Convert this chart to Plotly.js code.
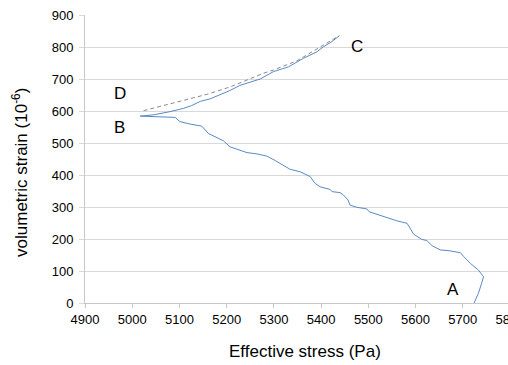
<!DOCTYPE html>
<html>
<head>
<meta charset="utf-8">
<script src="https://cdn.plot.ly/plotly-3.0.1.min.js"></script>
<style>
html, body { margin: 0; padding: 0; overflow: hidden; background: #fff; }
#chart { width: 540px; height: 365px; }
</style>
</head>
<body>
<div id="chart"></div>
<script>
// Loading path A -> B (effective stress in Pa, volumetric strain in 1e-6)
const loadStress = [5724, 5733, 5740, 5744, 5733, 5716, 5702, 5695, 5673, 5652, 5635, 5624, 5613, 5596, 5590, 5582, 5560, 5539, 5518, 5502, 5497, 5476, 5461, 5457, 5447, 5440, 5423, 5419, 5398, 5387, 5377, 5356, 5334, 5313, 5303, 5285, 5264, 5243, 5207, 5193, 5175, 5161, 5147, 5123, 5101, 5091, 5017];
const loadStrain = [0, 30, 62, 82, 103, 124, 145, 157, 163, 166, 179, 195, 199, 215, 230, 249, 257, 267, 277, 285, 294, 299, 306, 322, 338, 345, 348, 355, 363, 374, 395, 410, 418, 437, 445, 459, 466, 470, 488, 507, 520, 530, 553, 559, 567, 580, 584];

// Unloading path B -> C
const unloadStress = [5017, 5045, 5080, 5108, 5126, 5144, 5165, 5186, 5207, 5228, 5271, 5299, 5331, 5363, 5391, 5405, 5419, 5438];
const unloadStrain = [584, 588, 598, 608, 617, 630, 638, 650, 664, 680, 700, 723, 738, 765, 785, 801, 813, 834];

// Dashed reference curve D -> C
const dashStress = [5024, 5066, 5108, 5158, 5207, 5235, 5278, 5299, 5349, 5405, 5439];
const dashStrain = [601, 617, 634, 652, 675, 692, 718, 728, 757, 806, 836];

// Point labels
const pointLabels = ['A', 'B', 'C', 'D'];
const labelStress = [5680, 4974, 5476, 4974];
const labelStrain = [41, 547, 803, 656];

const xTicks = [4900, 5000, 5100, 5200, 5300, 5400, 5500, 5600, 5700, 5800];
const yTicks = [0, 100, 200, 300, 400, 500, 600, 700, 800, 900];

const font = 'Liberation Sans, Arial, sans-serif';

const traces = [
  { x: loadStress, y: loadStrain, type: 'scatter', mode: 'lines',
    line: { color: '#5b89c4', width: 1 }, hoverinfo: 'skip', showlegend: false },
  { x: unloadStress, y: unloadStrain, type: 'scatter', mode: 'lines',
    line: { color: '#5b89c4', width: 1 }, hoverinfo: 'skip', showlegend: false },
  { x: dashStress, y: dashStrain, type: 'scatter', mode: 'lines',
    line: { color: '#8a8a8a', width: 1, dash: '4px,3px' }, hoverinfo: 'skip', showlegend: false }
];

const annotations = pointLabels.map((t, i) => ({
  x: labelStress[i], y: labelStrain[i], xref: 'x', yref: 'y',
  xanchor: 'center', yanchor: 'middle',
  text: t, showarrow: false, font: { family: font, size: 17, color: '#000' }
}));
annotations.push({
  xref: 'paper', yref: 'paper', x: -0.153, y: 0.455, textangle: -90,
  xanchor: 'center', yanchor: 'middle',
  text: 'volumetric strain (10<sup>-6</sup>)', showarrow: false,
  font: { family: font, size: 17, color: '#000' }
});
annotations.push({
  xref: 'paper', yref: 'paper', x: 0.5176, y: -0.170,
  xanchor: 'center', yanchor: 'middle',
  text: 'Effective stress (Pa)', showarrow: false,
  font: { family: font, size: 17, color: '#000' }
});

const layout = {
  width: 540, height: 365,
  margin: { l: 85, r: 30, t: 15, b: 62 },
  paper_bgcolor: '#fff', plot_bgcolor: '#fff',
  font: { family: font, size: 13, color: '#000' },
  showlegend: false,
  xaxis: {
    range: [4900, 5800], tickvals: xTicks, ticktext: xTicks.map(String),
    showgrid: false, zeroline: false,
    showline: true, linecolor: '#c8c8c8', linewidth: 1,
    ticks: 'outside', ticklen: 4, tickcolor: '#c8c8c8',
    tickfont: { family: font, size: 13, color: '#000' }
  },
  yaxis: {
    range: [0, 900], tickvals: yTicks, ticktext: yTicks.map(String),
    showgrid: true, gridcolor: '#d9d9d9', gridwidth: 1, zeroline: false,
    showline: true, linecolor: '#c8c8c8', linewidth: 1,
    ticks: 'outside', ticklen: 5, tickcolor: '#d9d9d9', ticklabelstandoff: 3,
    tickfont: { family: font, size: 13, color: '#000' }
  },
  annotations: annotations
};

Plotly.newPlot('chart', traces, layout, { staticPlot: true, displayModeBar: false });
</script>
</body>
</html>
